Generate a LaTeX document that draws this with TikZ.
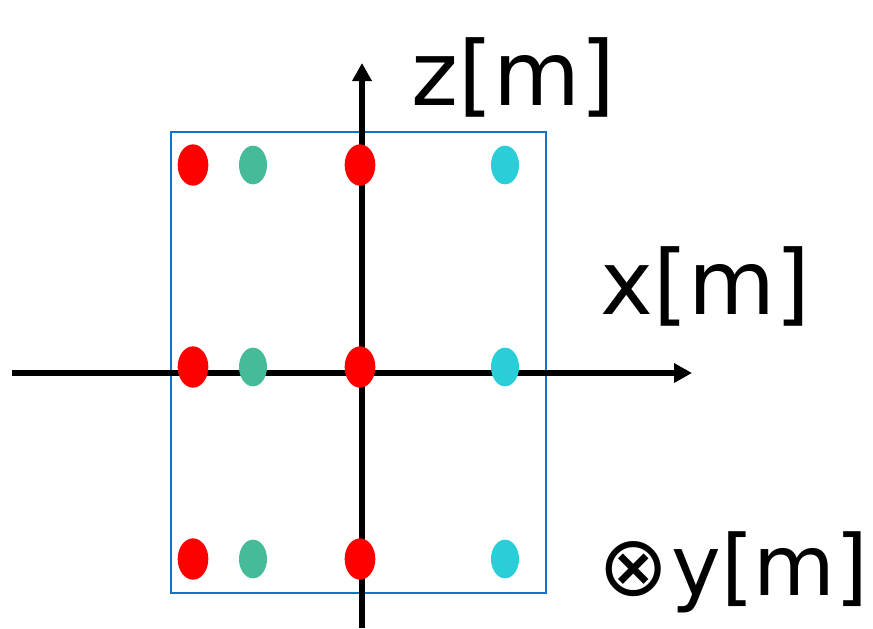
\documentclass[tikz,border=0pt]{standalone}
\usepackage{fontspec}
\setmainfont{DejaVu Sans}
\usetikzlibrary{arrows.meta,shapes.geometric}

\definecolor{rosso}{HTML}{FF0000}
\definecolor{verde}{HTML}{45BB99}
\definecolor{ciano}{HTML}{2ACED8}
\definecolor{bordo}{HTML}{1075C8}

\tikzset{
    asse/.style={line width=4.2pt,-{Triangle[length=13.5pt,width=14pt]}},
    punto/.style={ellipse,inner sep=0pt,minimum width=21pt,minimum height=29pt},
    etichetta/.style={anchor=base west,inner sep=0pt,font=\fontsize{67}{67}\selectfont}
}

\begin{document}
\begin{tikzpicture}[x=0.75pt,y=-0.75pt]
    %dimensioni figura
    \useasboundingbox (0,0) rectangle (873,628);

    % sezione
    \draw[bordo,line width=1.5pt] (170.5,131.5) rectangle (546,592.5);

    % estremi degli assi
    \coordinate (xinizio) at (12,373);
    \coordinate (xfine) at (692,373);
    \coordinate (zinizio) at (362,628);
    \coordinate (zfine) at (362,63);

    \draw[asse] (xinizio)--(xfine);
    \draw[asse] (zinizio)--(zfine);

    %\node[opzioni] (nome) at (x,y) {};
    \foreach \r/\y in {a/165,b/367,c/559}{
        \node[punto,fill=rosso,minimum width=23pt,minimum height=31pt] (r1\r) at (193,\y) {};
        \node[punto,fill=verde] (v\r) at (253,\y) {};
        \node[punto,fill=rosso,minimum width=23pt,minimum height=31pt] (r2\r) at (360,\y) {};
        \node[punto,fill=ciano] (c\r) at (505,\y) {};
    }

    % nomi degli assi
    \node[etichetta] (zlab) at (411,105) {z[m]};
    \node[etichetta] (xlab) at (600,314) {x[m]};
    \node[etichetta,font=\fontsize{63}{63}\selectfont] (ylab) at (598,595) {⊗\kern2pt y[m]};

\end{tikzpicture}
\end{document}
